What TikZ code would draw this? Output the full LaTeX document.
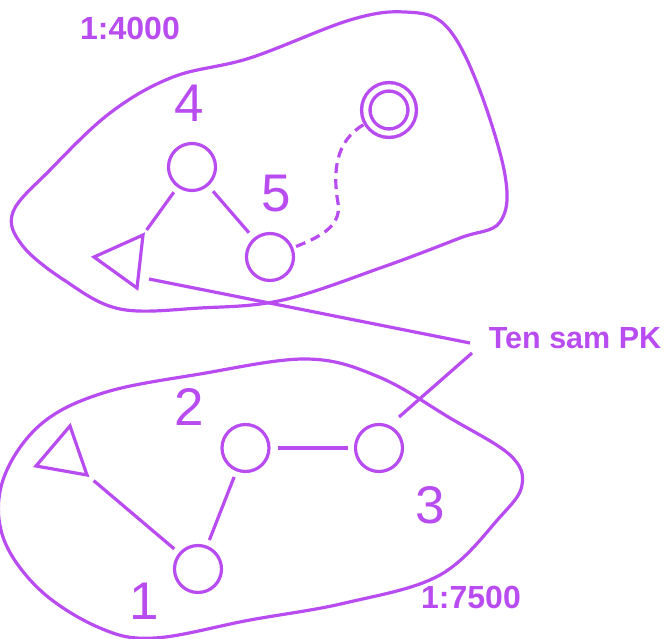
\documentclass[tikz,border=0pt]{standalone}
\usepackage{fontspec}
\setmainfont{Liberation Sans}
\usetikzlibrary{calc}
\definecolor{pur}{RGB}{184,76,240}
\begin{document}
\begin{tikzpicture}[x=1pt,y=1pt, pur, line width=3.2pt,
  ring/.style={circle, draw, minimum size=47pt, inner sep=0pt},
  dring/.style={circle, draw, line width=3.4pt, double, double distance=5pt, minimum size=46.4pt, inner sep=0pt, outer sep=5.9pt},
  num/.style={font=\fontsize{53}{53}\selectfont, inner sep=0pt},
  scaletxt/.style={font=\bfseries\fontsize{32}{32}\selectfont, inner sep=0pt},
  pktxt/.style={font=\bfseries\fontsize{30.5}{30.5}\selectfont, inner sep=0pt},
  link/.style={shorten <=7pt, shorten >=7pt},
  dashlink/.style={dash pattern=on 10pt off 6pt}]
\useasboundingbox (0,0) rectangle (666,-639);

% outlines
\draw plot[smooth cycle, tension=0.6] coordinates {
  (13,-212) (50,-170) (110,-113) (173,-77) (250,-58) (350,-20) (405,-12)
  (445,-25) (477,-83) (505,-175) (500,-222) (460,-238) (383,-267)
  (283,-300) (200,-308) (120,-309) (64,-280) (22,-245)};
\draw plot[smooth cycle, tension=0.6] coordinates {
  (307,-359) (379,-377) (450,-418) (510,-455) (522,-485) (500,-517)
  (440,-575) (345,-603) (250,-620) (155,-638) (100,-628) (40,-590)
  (3,-537) (3,-480) (40,-425) (103,-393) (200,-374)};

% labels
\node[scaletxt] (s4000) at (130,-28.5) {1:4000};
\node[scaletxt] (s7500) at (471,-597.5) {1:7500};
\node[pktxt] (pk) at (575,-338.5) {Ten sam PK};
\node[num] (l4) at (189.5,-103) {4};
\node[num] (l5) at (276,-194) {5};
\node[num] (l2) at (189.5,-407) {2};
\node[num] (l3) at (430,-505) {3};
\node[num] (l1) at (144,-601) {1};

% nodes
\node[ring] (n4) at (192,-167) {};
\node[ring] (n5) at (270,-257) {};
\node[dring] (dc) at (389,-110) {};
\node[ring] (n2) at (245.5,-448) {};
\node[ring] (n3) at (379,-448) {};
\node[ring] (n1) at (198,-569) {};

% triangles
\draw (94,-257) -- (143,-235) -- (137,-288) -- cycle;
\coordinate (ttri) at (125,-260);
\draw (36,-466) -- (70,-426) -- (87,-475) -- cycle;
\coordinate (btri) at (64.3,-455.7);

% helper points
\coordinate (ta) at (149,-279);
\coordinate (pka) at (470,-343);
\coordinate (pkb) at (472,-353);
\coordinate (c3a) at (399,-417);
\coordinate (bend) at (338,-203);

% connectors
\draw[shorten <=37pt, shorten >=6pt] (ttri) -- (n4);
\draw[link] (n4) -- (n5);
\draw[dashlink, shorten <=3pt] (n5) to[out=22,in=-80] (bend) to[out=100,in=-150] (dc);
\draw (ta) -- (pka);
\draw (pkb) -- (c3a);
\draw[shorten <=7pt, shorten >=6pt] (n2) -- (n3);
\draw[shorten <=6pt, shorten >=6pt] (n2) -- (n1);
\draw[shorten <=38.5pt, shorten >=6pt] (btri) -- (n1);
\end{tikzpicture}
\end{document}
